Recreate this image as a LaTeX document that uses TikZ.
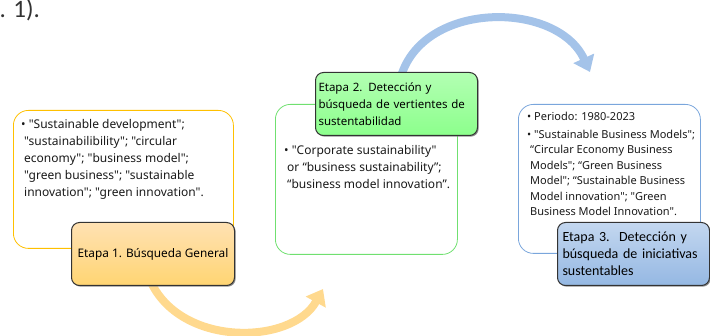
\documentclass[tikz,border=0pt]{standalone}
\usepackage{fontspec}
\setmainfont{Noto Sans}[Ligatures=TeXOff]
\newfontfamily\calibfont{Carlito}[Ligatures=TeXOff]
\usetikzlibrary{arrows.meta,shadows}
\definecolor{ylwline}{HTML}{FFC000}
\definecolor{ylwarrow}{HTML}{FFD98E}
\definecolor{grnline}{HTML}{70E070}
\definecolor{bluline}{HTML}{7AA6DC}
\definecolor{bluarrow}{HTML}{A4C3E9}

\begin{document}
\begin{tikzpicture}[x=1pt,y=-1pt,
    outerbox/.style={draw, line width=0.8pt, rounded corners=15pt, anchor=north west, inner sep=0pt},
    etapa/.style={draw=black!80, line width=1pt, rounded corners=8pt, anchor=north west, inner sep=0pt,
      drop shadow={shadow xshift=1.2pt, shadow yshift=-1.2pt, fill=black!55, opacity=0.8}},
    itemtext/.style={anchor=north west, align=left, inner sep=0pt, text=black!90},
    bigarrow/.style={line width=8pt, -{Triangle[length=15pt,width=22pt]}}]
  \useasboundingbox (0,0) rectangle (710,336);

  % fragment of the caption above
  \node[anchor=base west, inner sep=0pt, font=\calibfont\fontsize{25}{25}\selectfont, text=black!80] (capt) at (-0.5,18) {.\hspace{7.5pt}1).};

  % curved arrows between the stages
  \coordinate (ya) at (150,280);
  \coordinate (yb) at (323,289);
  \draw[bigarrow, ylwarrow] (ya) .. controls (180,348) and (292,345) .. (yb);
  \coordinate (ba) at (400,80);
  \coordinate (bb) at (590,72);
  \draw[bigarrow, bluarrow] (ba) .. controls (420,0) and (557,0) .. (bb);

  % stage 1
  \node[outerbox, draw=ylwline, minimum width=220pt, minimum height=138pt] (box1) at (13,110) {};
  \node[itemtext, font=\fontsize{12}{17}\selectfont] (txt1) at (21,119)
    {• "Sustainable development";\\
     \hspace*{3pt}"sustainabilibility"; "circular\\
     \hspace*{3pt}economy"; "business model";\\
     \hspace*{3pt}"green business"; "sustainable\\
     \hspace*{3pt}innovation"; "green innovation".};
  \node[etapa, top color=yellow!22!orange!30!white, bottom color=yellow!40!orange!55!white,
    minimum width=163pt, minimum height=63pt, font=\fontsize{11.8}{17}\selectfont] (e1) at (71,222)
    {Etapa 1. Búsqueda General};

  % stage 2
  \node[outerbox, draw=grnline, minimum width=182pt, minimum height=150pt] (box2) at (275,104) {};
  \node[itemtext, font=\fontsize{12}{17}\selectfont] (txt2) at (284,145)
    {• "Corporate sustainability"\\
     \hspace*{3pt}or “business sustainability”;\\
     \hspace*{3pt}“business model innovation”.};
  \node[etapa, top color=green!30!white, bottom color=green!45!white,
    minimum width=162pt, minimum height=63pt, text width=156pt, align=left,
    font=\fontsize{11.5}{17.3}\selectfont] (e2) at (315,72)
    {Etapa 2. Detección y\\búsqueda de vertientes de\\sustentabilidad};

  % stage 3
  \node[outerbox, draw=bluline, minimum width=182pt, minimum height=149pt] (box3) at (518,104) {};
  \node[itemtext, font=\fontsize{11}{15.4}\selectfont] (txt3) at (527,111.5)
    {• Periodo: 1980-2023\\[3pt]
     • "Sustainable Business Models";\\
     \hspace*{3pt}“Circular Economy Business\\
     \hspace*{3pt}Models"; “Green Business\\
     \hspace*{3pt}Model"; “Sustainable Business\\
     \hspace*{3pt}Model innovation"; "Green\\
     \hspace*{3pt}Business Model Innovation".};
  \node[etapa, top color=bluline!45!white, bottom color=bluline!80!white,
    minimum width=152pt, minimum height=63pt, text width=142pt, align=left,
    font=\calibfont\fontsize{14}{17.2}\selectfont] (e3) at (557,222)
    {Etapa 3.\ \ Detección y\\búsqueda de iniciativas\\sustentables};
\end{tikzpicture}
\end{document}
